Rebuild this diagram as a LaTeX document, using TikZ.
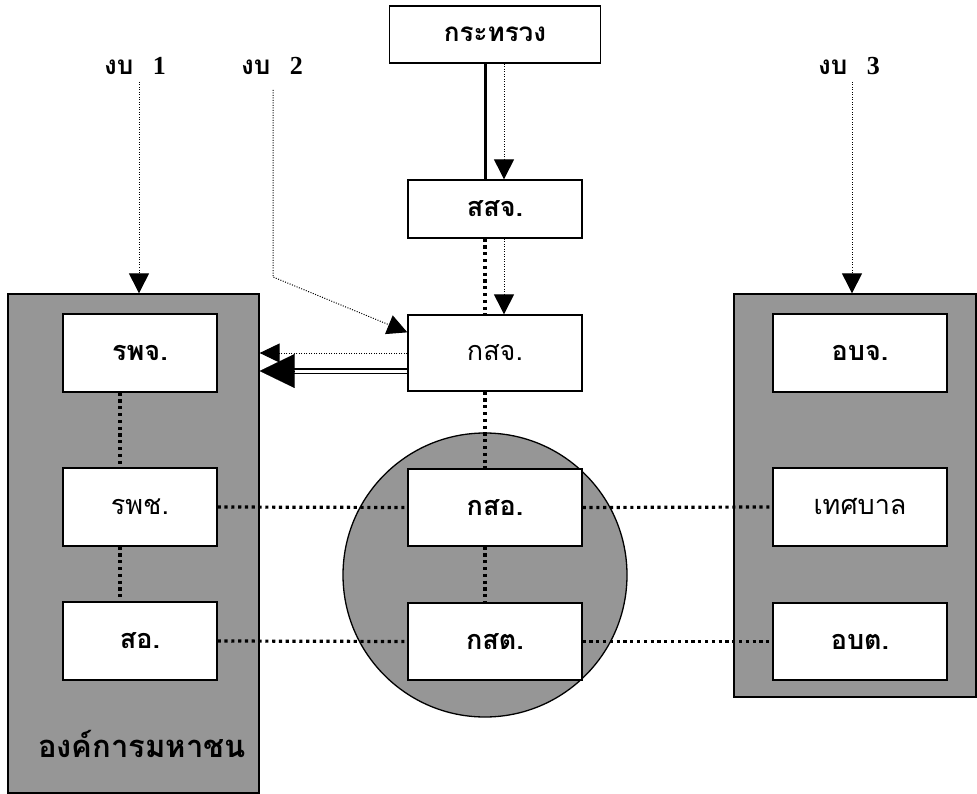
\documentclass[tikz,border=0pt]{standalone}
\usepackage{fontspec}
\newfontfamily\thai[Script=Thai]{Loma}
\newfontfamily\serifb{Liberation Serif}
\usetikzlibrary{arrows.meta}
\definecolor{boxgray}{HTML}{969696}
\begin{document}
\begin{tikzpicture}[x=1pt,y=-1pt,
  bx/.style={draw, line width=1.3pt, fill=white, minimum width=174pt, minimum height=77pt, inner sep=0pt, font=\thai\bfseries\fontsize{27}{30}\selectfont},
  bxn/.style={bx, font=\thai\fontsize{27}{30}\selectfont},
  lbx/.style={bx, minimum width=154pt},
  lbxn/.style={bxn, minimum width=154pt},
  grayrect/.style={draw, line width=1.3pt, fill=boxgray, inner sep=0pt},
  budget/.style={inner sep=0pt, font=\fontsize{26}{28}\selectfont\bfseries},
  tdot/.style={line width=1pt, dash pattern=on 1pt off 1.5pt},
  kdot/.style={line width=3.2pt, dash pattern=on 3.2pt off 3.6pt},
  tri/.style={-{Triangle[length=20pt,width=20pt]}}
]
\useasboundingbox (0,0) rectangle (977,794);
% backgrounds
\node[grayrect, minimum width=251pt, minimum height=499pt] (pub) at (133.5,543.5) {};
\node[grayrect, minimum width=242pt, minimum height=403pt] (loc) at (855,495.5) {};
\node[circle, draw, line width=1.3pt, fill=boxgray, minimum size=284pt, inner sep=0pt] (ring) at (485,575) {};
\node[font=\thai\bfseries\fontsize{31}{34}\selectfont] (publabel) at (142,744) {องค์การมหาชน};
% top chain
\node[bx, minimum width=211pt, minimum height=57pt, font=\thai\bfseries\fontsize{26}{28}\selectfont] (min) at (495,34.5) {กระทรวง};
\node[bx, minimum height=58pt] (ssj) at (495,209) {สสจ.};
\node[bxn, minimum height=76pt] (ksj) at (495,353) {กสจ.};
\node[bx] (kso) at (495,507.5) {กสอ.};
\node[bx] (kst) at (495,641.5) {กสต.};
% left column
\node[lbx, minimum height=78pt] (rpj) at (140,353) {รพจ.};
\node[lbxn, minimum height=78pt] (rpc) at (140,507) {รพช.};
\node[lbx, minimum height=78pt] (so) at (140,641) {สอ.};
% right column
\node[bx, minimum height=78pt] (obj) at (860,353) {อบจ.};
\node[bxn, minimum height=78pt] (tes) at (860,507) {เทศบาล};
\node[bx, minimum height=77pt] (obt) at (860,641.5) {อบต.};
% budget labels
\node[budget] (b1) at (135,66) {{\thai งบ}\ \ {\serifb 1}};
\node[budget] (b2) at (272,66) {{\thai งบ}\ \ {\serifb 2}};
\node[budget] (b3) at (849,66) {{\thai งบ}\ \ {\serifb 3}};
\coordinate (b2bend) at (273,277);
% connectors
\draw[line width=3pt] ([xshift=-10pt]min.south) -- ([xshift=-10pt]ssj.north);
\draw[tdot, tri] ([xshift=9pt]min.south) -- ([xshift=9pt]ssj.north);
\draw[kdot] ([xshift=-10pt]ssj.south) -- ([xshift=-10pt]ksj.north);
\draw[tdot, tri] ([xshift=9pt]ssj.south) -- ([xshift=9pt]ksj.north);
\draw[kdot] ([xshift=-10pt]ksj.south) -- ([xshift=-10pt]kso.north);
\draw[kdot] ([xshift=-10pt]kso.south) -- ([xshift=-10pt]kst.north);
\draw[kdot] ([xshift=-20pt]rpj.south) -- ([xshift=-20pt]rpc.north);
\draw[kdot] ([xshift=-20pt]rpc.south) -- ([xshift=-20pt]so.north);
\draw[kdot] (rpc.east) -- (kso.west);
\draw[kdot] (kso.east) -- (tes.west);
\draw[kdot] (so.east) -- (kst.west);
\draw[kdot] (kst.east) -- (obt.west);
% budget arrows
\draw[tdot, tri] (139,82) -- (pub.north -| 139,0);
\draw[tdot, tri] (852,82) -- (loc.north -| 852,0);
\draw[tdot, tri] (273,90) -- (b2bend) -- ([yshift=-18pt]ksj.north west);
% arrows to left block
\draw[tdot, -{Triangle[length=20pt,width=19pt]}] (ksj.west) -- (pub.east |- ksj.west);
\coordinate (dblstart) at ([yshift=-18pt]ksj.west);
\draw[line width=1.8pt, double distance=3pt, shorten >=30pt] (dblstart) -- (pub.east |- dblstart);
\draw[line width=0.1pt, -{Triangle[length=35pt,width=34pt]}] ([xshift=-114pt]dblstart) -- (pub.east |- dblstart);
\end{tikzpicture}
\end{document}
